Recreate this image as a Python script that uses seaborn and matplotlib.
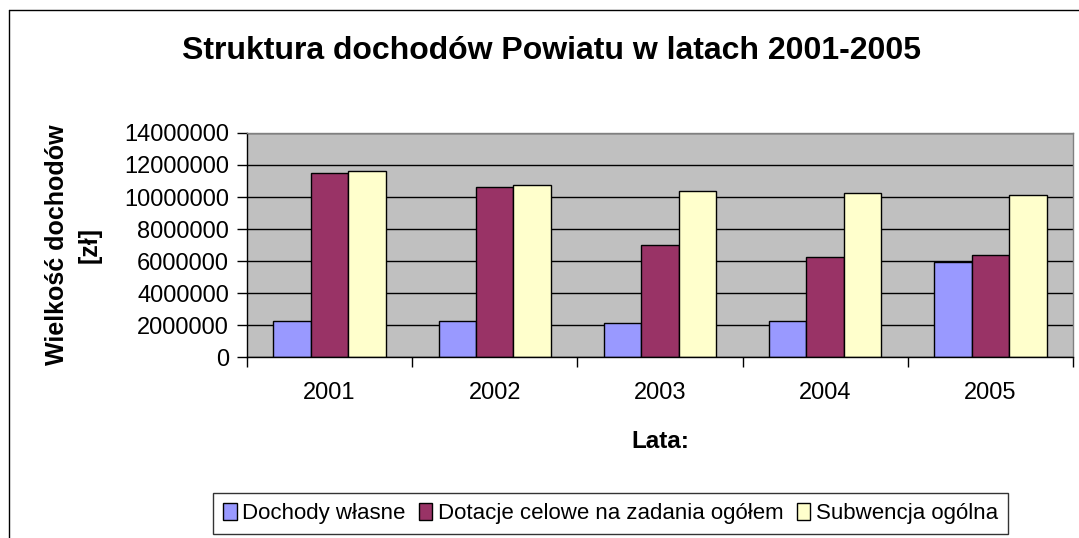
import pandas as pd
import seaborn as sns
from matplotlib import pyplot as plt
from matplotlib.lines import Line2D
from matplotlib.ticker import FuncFormatter, FixedLocator

# dane
lata = ['2001', '2002', '2003', '2004', '2005']
serie = ['Dochody własne', 'Dotacje celowe na zadania ogółem', 'Subwencja ogólna']
dochody_wlasne = [2230000, 2250000, 2140000, 2250000, 5920000]
dotacje_celowe = [11500000, 10620000, 6980000, 6270000, 6390000]
subwencja_ogolna = [11640000, 10750000, 10400000, 10270000, 10140000]
kolory = ['#9999FF', '#993366', '#FFFFCC']

df = pd.DataFrame({
    'rok': lata * 3,
    'seria': [serie[0]] * 5 + [serie[1]] * 5 + [serie[2]] * 5,
    'wartosc': dochody_wlasne + dotacje_celowe + subwencja_ogolna,
})

sns.set_style('white')
plt.rcParams['font.family'] = ['Liberation Sans', 'DejaVu Sans']
plt.rcParams['text.color'] = 'black'
plt.rcParams['axes.labelcolor'] = 'black'
plt.rcParams['xtick.color'] = 'black'
plt.rcParams['ytick.color'] = 'black'

fig = plt.figure(figsize=(10.79, 5.38), dpi=100)
ax = fig.add_axes([0.2289, 0.3364, 0.7655, 0.4164])
ax.set_facecolor('#C0C0C0')

sns.barplot(data=df, x='rok', y='wartosc', hue='seria', palette=kolory, saturation=1,
            width=0.68, edgecolor='black', linewidth=1, ax=ax)

ax.set_ylim(0, 14000000)
ax.set_yticks(range(0, 14000001, 2000000))
ax.yaxis.set_major_formatter(FuncFormatter(lambda v, p: '%d' % v))
ax.set_xlim(-0.5, 4.5)
ax.grid(axis='y', color='black', linewidth=1)
ax.set_axisbelow(True)

ax.tick_params(axis='y', direction='out', length=7, width=1, labelsize=17, pad=6, left=True)
ax.tick_params(axis='x', which='major', length=0, labelsize=17, pad=18)
ax.xaxis.set_minor_locator(FixedLocator([-0.5, 0.5, 1.5, 2.5, 3.5, 4.5]))
ax.tick_params(axis='x', which='minor', direction='out', length=7, width=1, bottom=True)

for s in ['left', 'bottom']:
    ax.spines[s].set_color('black')
    ax.spines[s].set_linewidth(1)
for s in ['top', 'right']:
    ax.spines[s].set_color('#808080')
    ax.spines[s].set_linewidth(1)

ax.set_xlabel('Lata:', fontsize=17.5, fontweight='bold', labelpad=19)
ax.set_ylabel('Wielkość dochodów\n[zł]', fontsize=18, fontweight='bold', labelpad=16,
              linespacing=1.45)

fig.suptitle('Struktura dochodów Powiatu w latach 2001-2005', fontsize=23, fontweight='bold',
             x=0.511, y=0.905, va='center')

handles, labels = ax.get_legend_handles_labels()
ax.get_legend().remove()
leg = fig.legend(handles, labels, loc='center', bbox_to_anchor=(0.566, 0.046), ncol=3,
                 fontsize=16, frameon=True, fancybox=False, edgecolor='black',
                 handlelength=0.6, handleheight=0.8, handletextpad=0.25, columnspacing=0.6,
                 borderpad=0.45, borderaxespad=0)
leg.get_frame().set_linewidth(1)

# ramka obszaru wykresu
fig.add_artist(Line2D([9 / 1079, 9 / 1079], [0, 1 - 10 / 538], color='black', linewidth=1))
fig.add_artist(Line2D([9 / 1079, 1], [1 - 10 / 538, 1 - 10 / 538], color='black', linewidth=1))

fig.savefig('out.png', dpi=100)
